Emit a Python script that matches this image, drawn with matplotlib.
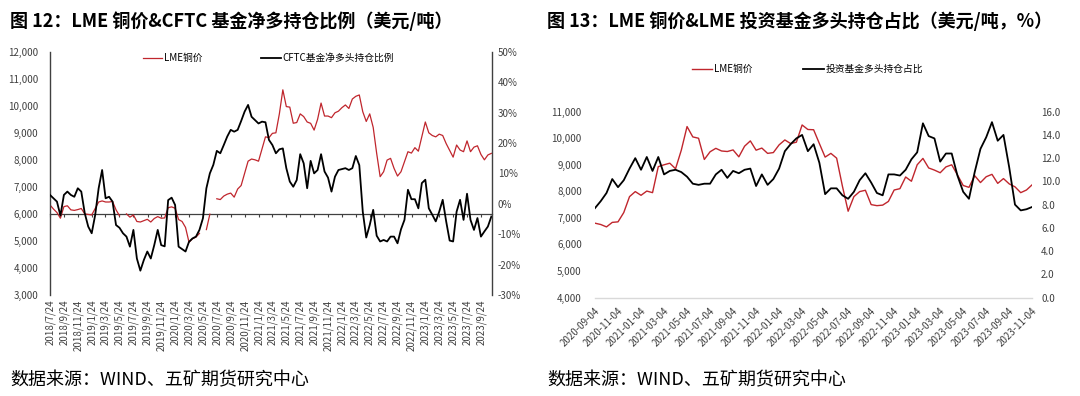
import numpy as np
import pandas as pd
import matplotlib
matplotlib.use("Agg")
import matplotlib.pyplot as plt
import matplotlib.dates as mdates
from matplotlib.ticker import FuncFormatter

plt.rcParams["font.family"] = ["Noto Sans CJK SC", "DejaVu Sans"]

# ---- 图12: half-month steps starting 2018-07-24 ----
LEFT_START = "2018-07-24"
lme_price_12 = [
    6330, 6180, 6050, 5840, 6270, 6300, 6150, 6130,
    6160, 6200, 6000, 5980, 5960, 6200, 6440, 6480,
    6440, 6440, 6460, 6150, 5930, np.nan, 6000, 5880,
    5960, 5720, 5700, 5750, 5800, 5700, 5830, 5900,
    5840, 5850, 6230, 6260, 6210, 5790, 5720, 5500,
    4950, 5080, 5140, 5280, np.nan, 5420, 5990, np.nan,
    6560, 6530, 6660, 6730, 6770, 6620, 6920, 7050,
    7500, 7950, 8030, 8000, 7950, 8400, 8850, 8820,
    8980, 9000, 9700, 10590, 9970, 9950, 9354, 9380,
    9700, 9600, 9400, 9350, 9100, 9500, 10100, 9620,
    9620, 9560, 9740, 9800, 9930, 10030, 9900, 10250,
    10350, 10400, 9780, 9420, 9700, 9200, 8240, 7377,
    7560, 7990, 8055, 7685, 7400, 7560, 7932, 8300,
    8250, 8450, 8320, 8856, 9400, 9000, 8900, 8850,
    8950, 8900, 8600, 8350, 8100, 8548, 8363, 8301,
    8700, 8301, 8470, 8520, 8200, 8000, 8180, 8240,
]
cftc_net_long = [
    2.9, 1.8, 0.7, -3.9, 2.9, 4.0, 2.9, 2.3,
    5.1, 4.0, -3.1, -7.5, -9.7, -3.7, 5.1, 11.1,
    1.8, 2.3, 0.7, -7.0, -7.9, -9.7, -10.8, -14.1,
    -8.6, -18.0, -22.0, -18.5, -15.7, -18.0, -13.6, -8.6,
    -13.6, -14.0, 1.2, 2.0, -0.4, -14.1, -14.9, -15.7,
    -12.5, -11.4, -10.8, -8.6, -4.8, 5.1, 10.0, 12.8,
    17.4, 16.6, 19.3, 22.1, 24.3, 23.7, 24.3, 27.2,
    30.3, 32.5, 28.6, 27.5, 26.4, 27.0, 26.8, 21.0,
    19.3, 16.6, 17.9, 18.2, 11.7, 7.3, 5.6, 7.8,
    16.3, 13.3, 5.1, 14.1, 10.0, 11.1, 16.3, 10.6,
    8.6, 4.0, 8.9, 11.1, 11.4, 11.7, 11.1, 11.7,
    15.7, 12.7, -2.6, -11.1, -7.0, -2.0, -10.5, -12.4,
    -11.9, -12.4, -10.8, -10.8, -13.0, -8.4, -5.3, 4.6,
    1.5, 1.5, -1.5, 6.8, 7.9, -1.5, -3.6, -5.8,
    -2.6, 1.3, -5.8, -12.1, -12.4, -2.6, 1.3, -5.3,
    3.3, -5.3, -8.6, -4.7, -10.8, -9.1, -7.5, -4.2,
]

# ---- 图13: half-month steps starting 2020-09-04 ----
RIGHT_START = "2020-09-04"
lme_price_13 = [
    6800, 6750, 6660, 6830, 6850, 7200, 7800, 7990,
    7850, 8010, 7950, 8930, 9000, 9060, 8850, 9550,
    10440, 10050, 10000, 9200, 9490, 9620, 9520, 9500,
    9560, 9300, 9700, 9900, 9550, 9630, 9430, 9460,
    9750, 9936, 9800, 9850, 10500, 10330, 10320, 9800,
    9290, 9430, 9250, 8200, 7250, 7800, 7990, 8040,
    7500, 7460, 7480, 7620, 8050, 8100, 8540, 8380,
    9000, 9240, 8880, 8800, 8700, 8920, 9000, 8620,
    8220, 8150, 8590, 8330, 8550, 8640, 8300, 8480,
    8280, 8170, 7950, 8050, 8250,
]
fund_long_share = [
    7.7, 8.3, 9.0, 10.2, 9.5, 10.1, 11.1, 12.0,
    11.0, 12.1, 10.9, 12.1, 10.6, 10.9, 11.0, 10.8,
    10.4, 9.8, 9.7, 9.8, 9.8, 10.6, 11.0, 10.3,
    10.9, 10.7, 11.0, 11.1, 9.6, 10.6, 9.7, 10.2,
    11.1, 12.6, 13.2, 13.7, 14.0, 12.6, 13.2, 11.6,
    8.9, 9.4, 9.4, 8.8, 8.5, 9.1, 10.1, 10.7,
    9.9, 9.0, 8.8, 10.6, 10.6, 10.5, 11.0, 11.9,
    12.5, 15.0, 13.9, 13.7, 11.7, 12.4, 12.4, 10.5,
    9.1, 8.5, 10.8, 12.8, 13.8, 15.1, 13.5, 14.0,
    11.2, 8.0, 7.5, 7.6, 7.8,
]

RED = "#C0262D"
GRAY = "#404040"
W, H = 1080, 396


def half_month_x(start, n):
    base = mdates.date2num(pd.Timestamp(start).to_pydatetime())
    return base + np.arange(n) * 365.25 / 24


def two_month_ticks(start, count):
    return pd.date_range(start, periods=count, freq=pd.DateOffset(months=2))


def px_box(x0, y0, x1, y1):
    return [x0 / W, 1 - y1 / H, (x1 - x0) / W, (y1 - y0) / H]


fig = plt.figure(figsize=(W / 100, H / 100), dpi=100)

# ================= 图12 =================
ax1 = fig.add_axes(px_box(50, 51.7, 491.7, 295))
ax1b = ax1.twinx()
x12 = half_month_x(LEFT_START, len(lme_price_12))
l1, = ax1.plot(x12, lme_price_12, color=RED, lw=0.9)
l2, = ax1b.plot(x12, cftc_net_long, color="black", lw=1.3)

ymin, ymax = 3000, 12000
ax1.set_ylim(ymin, ymax)
ax1.set_yticks(range(3000, 12001, 1000))
ax1.yaxis.set_major_formatter(FuncFormatter(lambda v, p: f"{v:,.0f}"))
ax1b.set_ylim(-30, 50)
ax1b.set_yticks(range(-30, 51, 10))
ax1b.yaxis.set_major_formatter(FuncFormatter(lambda v, p: f"{v:.0f}%"))

t12 = two_month_ticks(LEFT_START, 32)
t12x = mdates.date2num(t12.to_pydatetime())
ax1.set_xlim(x12[0], x12[0] + 63.55 * 365.25 / 12)
ax1.set_xticks(t12x)
ax1.set_xticklabels([f"{d.year}/{d.month}/{d.day}" for d in t12], rotation=90)
ax1.tick_params(axis="x", length=0, pad=3.5, labelsize=7, labelcolor=GRAY)
ax1.tick_params(axis="y", length=0, pad=8.4, labelsize=7, labelcolor=GRAY)
ax1b.tick_params(axis="y", length=0, pad=4.5, labelsize=7, labelcolor=GRAY)

for s in ("top", "bottom", "right"):
    ax1.spines[s].set_visible(False)
for s in ("top", "bottom", "left"):
    ax1b.spines[s].set_visible(False)
ax1.spines["left"].set_color(GRAY)
ax1.spines["left"].set_linewidth(1.0)
ax1b.spines["right"].set_color(GRAY)
ax1b.spines["right"].set_linewidth(1.0)

# category axis crossing at 6,000
cross = ax1.secondary_xaxis((6000 - ymin) / (ymax - ymin))
cross.set_xticks(t12x)
cross.tick_params(axis="x", direction="out", length=2.5, width=0.8, color=GRAY,
                  labelbottom=False, labeltop=False)
for s in ("top", "bottom"):
    cross.spines[s].set_color(GRAY)
    cross.spines[s].set_linewidth(0.9)

fig.legend([l1, l2], ["LME铜价", "CFTC基金净多头持仓比例"], loc="center left",
           bbox_to_anchor=(143 / W, 1 - 58 / H), ncol=2, frameon=False,
           fontsize=7, handlelength=2.0, handletextpad=0.2, columnspacing=6.0,
           borderpad=0, borderaxespad=0)

# ================= 图13 =================
ax2 = fig.add_axes(px_box(595, 111.7, 1032, 297.5))
ax2b = ax2.twinx()
x13 = half_month_x(RIGHT_START, len(lme_price_13))
r1, = ax2.plot(x13, lme_price_13, color=RED, lw=1.0)
r2, = ax2b.plot(x13, fund_long_share, color="black", lw=1.3)

ax2.set_ylim(4000, 11000)
ax2.set_yticks(range(4000, 11001, 1000))
ax2.yaxis.set_major_formatter(FuncFormatter(lambda v, p: f"{v:,.0f}"))
ax2b.set_ylim(0, 16)
ax2b.set_yticks(range(0, 17, 2))
ax2b.yaxis.set_major_formatter(FuncFormatter(lambda v, p: f"{v:.1f}"))

t13 = two_month_ticks(RIGHT_START, 20)
t13x = mdates.date2num(t13.to_pydatetime())
ax2.set_xlim(t13x[0], mdates.date2num(pd.Timestamp("2023-11-04").to_pydatetime()))
ax2.set_xticks(t13x)
ax2.set_xticklabels([d.strftime("%Y-%m-%d") for d in t13], rotation=45,
                    ha="right", rotation_mode="anchor")
ax2.tick_params(axis="x", length=0, pad=6, labelsize=7, labelcolor=GRAY)
ax2.tick_params(axis="y", length=0, pad=9.5, labelsize=7, labelcolor=GRAY)
ax2b.tick_params(axis="y", length=0, pad=6.5, labelsize=7, labelcolor=GRAY)

for a in (ax2, ax2b):
    for s in ("top", "left", "right"):
        a.spines[s].set_visible(False)
ax2b.spines["bottom"].set_visible(False)
ax2.spines["bottom"].set_color("#D9D9D9")
ax2.spines["bottom"].set_linewidth(1.0)

fig.legend([r1, r2], ["LME铜价", "投资基金多头持仓占比"], loc="center left",
           bbox_to_anchor=(692 / W, 1 - 69 / H), ncol=2, frameon=False,
           fontsize=7, handlelength=2.1, handletextpad=0.2, columnspacing=5.2,
           borderpad=0, borderaxespad=0)

# ---- titles and sources ----
fig.text(10 / W, 1 - 20.7 / H, "图 12：LME 铜价&CFTC 基金净多持仓比例（美元/吨）",
         fontsize=13, fontweight="bold", va="center", ha="left")
fig.text(547 / W, 1 - 20.7 / H, "图 13：LME 铜价&LME 投资基金多头持仓占比（美元/吨，%）",
         fontsize=13, fontweight="bold", va="center", ha="left")
fig.text(10 / W, 1 - 380 / H, "数据来源：WIND、五矿期货研究中心",
         fontsize=13, va="center", ha="left")
fig.text(547 / W, 1 - 380 / H, "数据来源：WIND、五矿期货研究中心",
         fontsize=13, va="center", ha="left")

fig.savefig("out.png", dpi=100)
